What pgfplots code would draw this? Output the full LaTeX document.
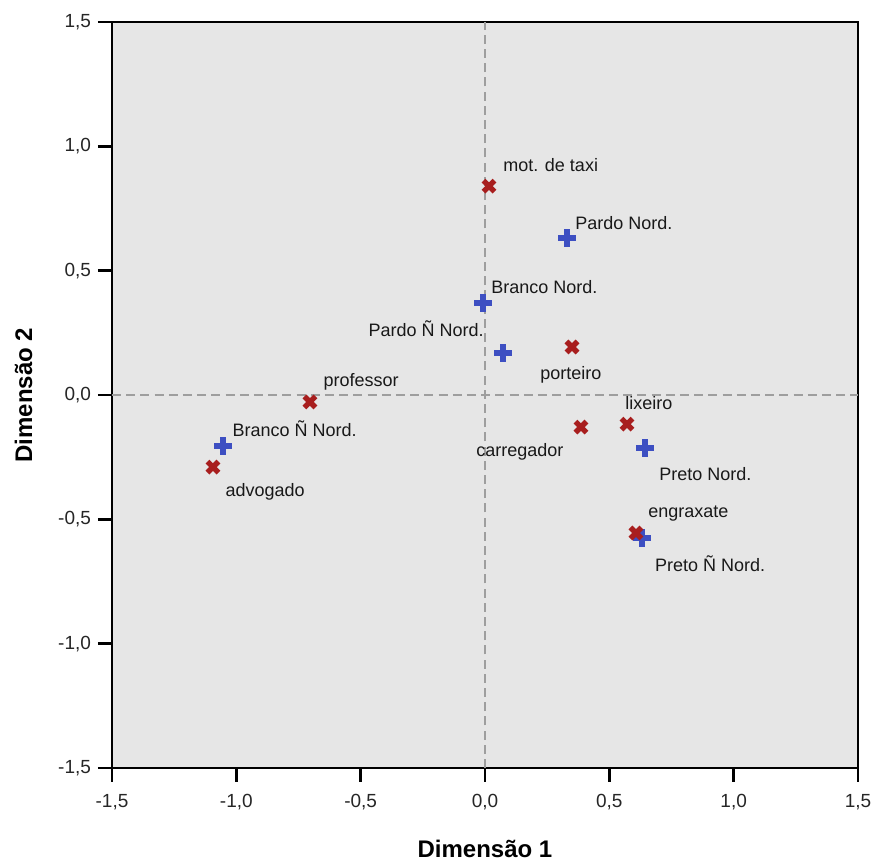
\documentclass[border=0pt]{standalone}
\usepackage{fontspec}
\setmainfont{Liberation Sans}
\usepackage{pgfplots}
\pgfplotsset{compat=1.18}
\definecolor{bgc}{HTML}{E6E6E6}
\definecolor{rx}{HTML}{A81E1E}
\definecolor{bp}{HTML}{3D4FC2}
\definecolor{gl}{HTML}{9E9E9E}
\begin{document}
\begin{tikzpicture}
\useasboundingbox (-56pt,-46.5pt) rectangle (381.5pt,384pt);
\begin{axis}[
  scale only axis, width=373pt, height=373pt,
  xmin=-1.5, xmax=1.5, ymin=-1.5, ymax=1.5,
  xtick={-1.5,-1,-0.5,0,0.5,1,1.5},
  ytick={-1.5,-1,-0.5,0,0.5,1,1.5},
  tick pos=left, tick align=outside,
  major tick length=7pt,
  every tick/.style={black, line width=1.2pt},
  axis line style={line width=1pt},
  axis background/.style={fill=bgc},
  /pgf/number format/assume math mode=true,
  /pgf/number format/use comma,
  /pgf/number format/fixed,
  /pgf/number format/fixed zerofill,
  /pgf/number format/precision=1,
  ticklabel style={font=\fontsize{9.5pt}{11pt}\selectfont, text=black!85},
  xticklabel style={yshift=-2.5pt},
  xlabel={Dimensão 1}, ylabel={Dimensão 2},
  xlabel style={font=\fontsize{12pt}{14pt}\selectfont\bfseries, at={(axis description cs:0.5,-0.1206)}, anchor=base},
  ylabel style={font=\fontsize{12pt}{14pt}\selectfont\bfseries, at={(axis description cs:-0.1072,0.5)}, anchor=base, rotate=0},
  clip=false,
]
\draw[gl, line width=1.3pt, dash pattern=on 4.5pt off 2.6pt] (axis cs:0,-1.5) -- (axis cs:0,1.5);
\draw[gl, line width=1.3pt, dash pattern=on 4.5pt off 2.6pt] (axis cs:-1.5,0) -- (axis cs:1.5,0);
% blue: rows
\addplot[only marks, mark=+, mark size=4.4pt, line width=3pt, color=bp] coordinates {
  (0.330,0.631) (-0.008,0.370) (0.072,0.169) (-1.053,-0.205) (0.643,-0.213) (0.631,-0.575)
};
% red: columns
\addplot[only marks, mark=x, mark size=3.9pt, line width=2.7pt, color=rx] coordinates {
  (0.016,0.840) (0.350,0.193) (-0.704,-0.028) (-1.094,-0.290) (0.386,-0.129) (0.571,-0.117) (0.607,-0.555)
};
\begin{scope}[every node/.style={anchor=base west, inner sep=0pt, font=\fontsize{9pt}{11pt}\selectfont, text=black!90}]
\node at (axis cs:0.072,0.897) {mot. de taxi};
\node at (axis cs:0.362,0.667) {Pardo Nord.};
\node at (axis cs:0.024,0.410) {Branco Nord.};
\node at (axis cs:-0.470,0.237) {Pardo Ñ Nord.};
\node at (axis cs:0.221,0.064) {porteiro};
\node at (axis cs:-0.651,0.036) {professor};
\node at (axis cs:0.563,-0.060) {lixeiro};
\node at (axis cs:-1.017,-0.165) {Branco Ñ Nord.};
\node at (axis cs:-0.036,-0.249) {carregador};
\node at (axis cs:0.700,-0.342) {Preto Nord.};
\node at (axis cs:-1.045,-0.410) {advogado};
\node at (axis cs:0.655,-0.491) {engraxate};
\node at (axis cs:0.683,-0.708) {Preto Ñ Nord.};
\end{scope}
\end{axis}
\end{tikzpicture}
\end{document}
